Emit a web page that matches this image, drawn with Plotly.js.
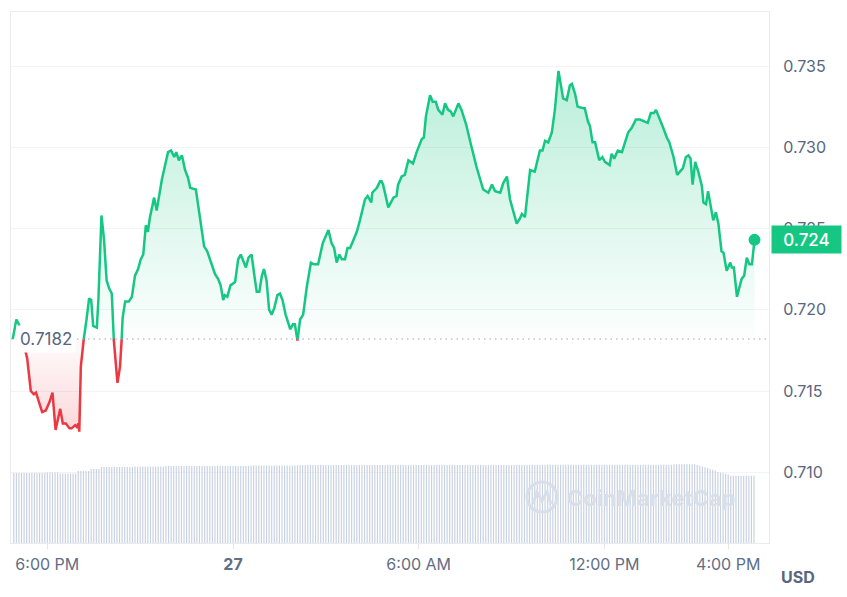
<!DOCTYPE html>
<html><head><meta charset="utf-8">
<script src="https://cdn.plot.ly/plotly-3.0.1.min.js"></script>
<style>html,body{margin:0;padding:0;background:#fff;}#chart{width:847px;height:597px;}</style>
</head><body><div id="chart"></div>
<script>
const times = [
'2025-01-26 16:53','2025-01-26 17:00','2025-01-26 17:05','2025-01-26 17:21','2025-01-26 17:28','2025-01-26 17:34','2025-01-26 17:38','2025-01-26 17:44','2025-01-26 17:50','2025-01-26 17:57',
'2025-01-26 18:04','2025-01-26 18:10','2025-01-26 18:16','2025-01-26 18:25','2025-01-26 18:30','2025-01-26 18:36','2025-01-26 18:43','2025-01-26 18:47','2025-01-26 18:54','2025-01-26 18:57',
'2025-01-26 19:00','2025-01-26 19:02','2025-01-26 19:05','2025-01-26 19:11','2025-01-26 19:16','2025-01-26 19:21','2025-01-26 19:25','2025-01-26 19:29','2025-01-26 19:36','2025-01-26 19:39',
'2025-01-26 19:45','2025-01-26 19:50','2025-01-26 19:55','2025-01-26 20:00','2025-01-26 20:05','2025-01-26 20:09','2025-01-26 20:16','2025-01-26 20:21','2025-01-26 20:24','2025-01-26 20:26',
'2025-01-26 20:31','2025-01-26 20:38','2025-01-26 20:44','2025-01-26 20:50','2025-01-26 20:56','2025-01-26 21:01','2025-01-26 21:06','2025-01-26 21:11','2025-01-26 21:15','2025-01-26 21:19',
'2025-01-26 21:27','2025-01-26 21:32','2025-01-26 21:42','2025-01-26 21:48','2025-01-26 21:54','2025-01-26 22:00','2025-01-26 22:06','2025-01-26 22:10','2025-01-26 22:15','2025-01-26 22:21',
'2025-01-26 22:27','2025-01-26 22:33','2025-01-26 22:37','2025-01-26 22:48','2025-01-26 22:53','2025-01-26 22:59','2025-01-26 23:04','2025-01-26 23:10','2025-01-26 23:17','2025-01-26 23:25',
'2025-01-26 23:31','2025-01-26 23:36','2025-01-26 23:41','2025-01-26 23:44','2025-01-26 23:49','2025-01-26 23:55','2025-01-27 00:04','2025-01-27 00:10','2025-01-27 00:15','2025-01-27 00:20',
'2025-01-27 00:25','2025-01-27 00:30','2025-01-27 00:36','2025-01-27 00:41','2025-01-27 00:46','2025-01-27 00:51','2025-01-27 00:56','2025-01-27 01:00','2025-01-27 01:05','2025-01-27 01:10',
'2025-01-27 01:15','2025-01-27 01:20','2025-01-27 01:26','2025-01-27 01:31','2025-01-27 01:36','2025-01-27 01:42','2025-01-27 01:51','2025-01-27 01:56','2025-01-27 02:00','2025-01-27 02:05',
'2025-01-27 02:10','2025-01-27 02:16','2025-01-27 02:23','2025-01-27 02:31','2025-01-27 02:37','2025-01-27 02:45','2025-01-27 02:54','2025-01-27 03:05','2025-01-27 03:11','2025-01-27 03:16',
'2025-01-27 03:21','2025-01-27 03:26','2025-01-27 03:31','2025-01-27 03:37','2025-01-27 03:42','2025-01-27 03:47','2025-01-27 03:53','2025-01-27 04:00','2025-01-27 04:06','2025-01-27 04:16',
'2025-01-27 04:21','2025-01-27 04:28','2025-01-27 04:30','2025-01-27 04:39','2025-01-27 04:45','2025-01-27 04:48','2025-01-27 04:51','2025-01-27 05:01','2025-01-27 05:11','2025-01-27 05:17',
'2025-01-27 05:20','2025-01-27 05:27','2025-01-27 05:33','2025-01-27 05:40','2025-01-27 05:49','2025-01-27 05:56','2025-01-27 06:06','2025-01-27 06:10','2025-01-27 06:14','2025-01-27 06:22',
'2025-01-27 06:27','2025-01-27 06:33','2025-01-27 06:38','2025-01-27 06:46','2025-01-27 06:51','2025-01-27 06:57','2025-01-27 07:02','2025-01-27 07:07','2025-01-27 07:12','2025-01-27 07:17',
'2025-01-27 07:23','2025-01-27 07:32','2025-01-27 07:41','2025-01-27 07:52','2025-01-27 08:05','2025-01-27 08:15','2025-01-27 08:22','2025-01-27 08:28','2025-01-27 08:38','2025-01-27 08:44',
'2025-01-27 08:51','2025-01-27 08:57','2025-01-27 09:03','2025-01-27 09:10','2025-01-27 09:16','2025-01-27 09:20','2025-01-27 09:26','2025-01-27 09:36','2025-01-27 09:45','2025-01-27 09:55',
'2025-01-27 10:00','2025-01-27 10:05','2025-01-27 10:11','2025-01-27 10:18','2025-01-27 10:24','2025-01-27 10:31','2025-01-27 10:40','2025-01-27 10:47','2025-01-27 10:53','2025-01-27 10:57',
'2025-01-27 11:03','2025-01-27 11:08','2025-01-27 11:19','2025-01-27 11:22','2025-01-27 11:28','2025-01-27 11:32','2025-01-27 11:37','2025-01-27 11:42','2025-01-27 11:50','2025-01-27 11:56',
'2025-01-27 12:01','2025-01-27 12:10','2025-01-27 12:14','2025-01-27 12:19','2025-01-27 12:26','2025-01-27 12:34','2025-01-27 12:40','2025-01-27 12:46','2025-01-27 12:53','2025-01-27 13:01',
'2025-01-27 13:09','2025-01-27 13:17','2025-01-27 13:24','2025-01-27 13:30','2025-01-27 13:36','2025-01-27 13:40','2025-01-27 13:48','2025-01-27 13:54','2025-01-27 14:01','2025-01-27 14:06',
'2025-01-27 14:14','2025-01-27 14:21','2025-01-27 14:32','2025-01-27 14:38','2025-01-27 14:43','2025-01-27 14:47','2025-01-27 14:51','2025-01-27 14:56','2025-01-27 15:02','2025-01-27 15:09',
'2025-01-27 15:12','2025-01-27 15:17','2025-01-27 15:21','2025-01-27 15:26','2025-01-27 15:31','2025-01-27 15:36','2025-01-27 15:41','2025-01-27 15:47','2025-01-27 15:51','2025-01-27 15:57',
'2025-01-27 16:04','2025-01-27 16:07','2025-01-27 16:11','2025-01-27 16:17','2025-01-27 16:22','2025-01-27 16:26','2025-01-27 16:31','2025-01-27 16:36','2025-01-27 16:41','2025-01-27 16:46',
'2025-01-27 16:51'];

const prices = [
0.7182,0.7194,0.7191,0.7170,0.7150,0.7148,0.7149,0.7143,0.7137,0.7138,
0.7143,0.7149,0.7126,0.7139,0.7130,0.7130,0.7127,0.7127,0.7129,0.7128,
0.7130,0.7125,0.7165,0.7183,0.7194,0.7207,0.7206,0.7190,0.7189,0.7206,
0.7258,0.7243,0.7218,0.7213,0.7210,0.7181,0.7155,0.7165,0.7181,0.7195,
0.7205,0.7205,0.7208,0.7221,0.7225,0.7231,0.7234,0.7252,0.7248,0.7257,
0.7269,0.7261,0.7280,0.7289,0.7297,0.7298,0.7294,0.7297,0.7292,0.7295,
0.7286,0.7281,0.7275,0.7274,0.7263,0.7249,0.7239,0.7236,0.7229,0.7222,
0.7219,0.7215,0.7206,0.7209,0.7208,0.7215,0.7217,0.7231,0.7234,0.7230,
0.7226,0.7232,0.7234,0.7222,0.7211,0.7211,0.7221,0.7225,0.7218,0.7200,
0.7197,0.7201,0.7209,0.7210,0.7206,0.7197,0.7188,0.7191,0.7191,0.7181,
0.7194,0.7197,0.7214,0.7229,0.7228,0.7228,0.7241,0.7249,0.7241,0.7238,
0.7229,0.7234,0.7231,0.7231,0.7238,0.7238,0.7243,0.7248,0.7255,0.7268,
0.7270,0.7266,0.7272,0.7275,0.7279,0.7279,0.7277,0.7263,0.7269,0.7270,
0.7277,0.7282,0.7283,0.7292,0.7290,0.7297,0.7305,0.7306,0.7319,0.7332,
0.7328,0.7328,0.7323,0.7320,0.7327,0.7323,0.7322,0.7319,0.7323,0.7327,
0.7323,0.7314,0.7302,0.7288,0.7274,0.7272,0.7277,0.7273,0.7272,0.7278,
0.7282,0.7268,0.7261,0.7253,0.7256,0.7259,0.7257,0.7286,0.7285,0.7298,
0.7298,0.7304,0.7303,0.7309,0.7323,0.7347,0.7330,0.7329,0.7338,0.7339,
0.7333,0.7325,0.7324,0.7324,0.7316,0.7313,0.7303,0.7303,0.7292,0.7294,
0.7291,0.7289,0.7296,0.7293,0.7298,0.7297,0.7303,0.7309,0.7312,0.7317,
0.7317,0.7316,0.7315,0.7321,0.7321,0.7323,0.7316,0.7312,0.7306,0.7303,
0.7294,0.7283,0.7287,0.7294,0.7295,0.7293,0.7277,0.7291,0.7285,0.7276,
0.7266,0.7265,0.7273,0.7263,0.7255,0.7260,0.7253,0.7236,0.7235,0.7224,
0.7229,0.7226,0.7226,0.7208,0.7214,0.7219,0.7221,0.7232,0.7228,0.7228,
0.7243];

const openPrice = 0.7182;

const volumeStart = '2025-01-26 16:55';
const volumeStepMinutes = 5;
const volumes = [
350,350,350,350,350,350,350,350,350,350,
350,350,350,352,352,352,352,352,347,347,
347,347,347,347,347,360,360,360,360,360,
370,370,370,370,380,380,380,380,380,380,
380,380,380,380,380,380,380,383,383,383,
383,383,383,383,383,383,383,383,383,385,
385,385,385,385,385,385,385,385,385,385,
385,385,385,385,385,385,385,385,385,385,
385,385,385,385,385,385,385,385,385,385,
385,385,388,388,388,388,388,388,388,388,
388,388,388,388,388,388,388,388,388,388,
388,390,390,390,390,390,390,390,390,390,
390,390,390,390,390,390,390,390,390,390,
390,390,390,390,390,390,390,390,390,390,
390,390,390,390,390,390,390,390,390,390,
390,390,390,390,390,390,390,390,390,390,
390,390,390,390,390,390,390,390,390,390,
390,390,390,390,390,390,390,390,390,390,
390,390,390,390,390,390,390,390,390,390,
390,390,390,390,390,390,390,390,390,390,
390,391,391,391,391,391,391,391,391,391,
391,391,391,391,391,391,391,391,391,391,
391,391,391,391,391,391,391,391,391,391,
391,391,391,391,391,391,391,391,391,391,
391,391,391,391,391,391,391,391,391,391,
391,391,391,391,391,391,394,394,394,394,
394,394,394,394,394,390,386,382,378,374,
370,366,362,355,352,350,346,342,336,336,
336,336,336,336,336,336,336,336];

const xTickVals = ['2025-01-26 18:00','2025-01-27 00:00','2025-01-27 06:00','2025-01-27 12:00','2025-01-27 16:00'];
const xTickText = ['6:00 PM','<b>27</b>','6:00 AM','12:00 PM','4:00 PM'];
const yTickVals = [0.710,0.715,0.720,0.725,0.730,0.735];
const yTickText = ['0.710','0.715','0.720','0.725','0.730','0.735'];
const currencyLabel = 'USD';
const watermarkText = 'CoinMarketCap';

const GREEN = '#16c784', RED = '#ea3943';

function toMs(s){
  const [d,t] = s.split(' ');
  const [Y,M,D] = d.split('-').map(Number);
  const [h,m] = t.split(':').map(Number);
  return Date.UTC(Y,M-1,D,h,m);
}

const tx = times.map(toMs);
const X = [], Y = [];
for (let i = 0; i < tx.length; i++) {
  X.push(tx[i]); Y.push(prices[i]);
  if (i < tx.length - 1) {
    const a = prices[i] - openPrice, b = prices[i+1] - openPrice;
    if (a * b < 0) {
      const f = a / (a - b);
      X.push(tx[i] + f * (tx[i+1] - tx[i]));
      Y.push(openPrice);
    }
  }
}
const up = Y.map(v => v >= openPrice ? v : null);
const dn = Y.map(v => v <= openPrice ? v : null);
const upFill = Y.map(v => Math.max(v, openPrice));
const dnFill = Y.map(v => Math.min(v, openPrice));
const baseArr = Y.map(() => openPrice);
const pMax = Math.max(...prices), pMin = Math.min(...prices);

const v0 = toMs(volumeStart);
const volX = volumes.map((_, i) => v0 + i * volumeStepMinutes * 60000);

const last = prices.length - 1;
const lastLabel = prices[last].toFixed(3);

const traces = [
  {x: volX, y: volumes, type: 'bar', yaxis: 'y2', marker: {color: '#c8d1e1', line: {width: 0}}, hoverinfo: 'skip', showlegend: false},
  {x: X, y: baseArr, mode: 'lines', line: {width: 0, color: 'rgba(0,0,0,0)'}, hoverinfo: 'skip', showlegend: false},
  {x: X, y: upFill, mode: 'lines', line: {width: 0, color: 'rgba(0,0,0,0)'}, fill: 'tonexty',
   fillgradient: {type: 'vertical', colorscale: [[0, 'rgba(22,199,132,0.01)'], [1, 'rgba(22,199,132,0.3)']], start: openPrice, stop: pMax},
   hoverinfo: 'skip', showlegend: false},
  {x: X, y: baseArr, mode: 'lines', line: {width: 0, color: 'rgba(0,0,0,0)'}, hoverinfo: 'skip', showlegend: false},
  {x: X, y: dnFill, mode: 'lines', line: {width: 0, color: 'rgba(0,0,0,0)'}, fill: 'tonexty',
   fillgradient: {type: 'vertical', colorscale: [[0, 'rgba(234,57,67,0.2)'], [1, 'rgba(234,57,67,0.02)']], start: pMin, stop: openPrice},
   hoverinfo: 'skip', showlegend: false},
  {x: X, y: up, mode: 'lines', line: {color: GREEN, width: 2.5}, connectgaps: false, showlegend: false},
  {x: X, y: dn, mode: 'lines', line: {color: RED, width: 2.5}, connectgaps: false, showlegend: false},
  {x: [tx[last]], y: [prices[last]], mode: 'markers', marker: {color: GREEN, size: 12}, showlegend: false}
];

const L = 11, R = 769, T = 12, B = 543;
const px = v => (v - L) / (R - L);
const py = v => (B - v) / (B - T);

const layout = {
  width: 847, height: 597,
  margin: {l: 11, r: 78, t: 12, b: 54},
  paper_bgcolor: '#ffffff', plot_bgcolor: '#ffffff',
  font: {family: 'Inter, "Noto Sans", sans-serif', color: '#58667e', size: 16},
  showlegend: false,
  bargap: 0.55,
  xaxis: {
    type: 'date', range: ['2025-01-26 16:49:36', '2025-01-27 17:19:06'],
    tickmode: 'array', tickvals: xTickVals, ticktext: xTickText,
    showgrid: false, zeroline: false, showline: true, mirror: true,
    linecolor: '#e8ebef', linewidth: 1,
    ticks: 'outside', ticklen: 5, tickcolor: '#e3e7ec', ticklabelstandoff: 2,
    tickfont: {size: 16, color: '#616e85'}, fixedrange: true
  },
  yaxis: {
    side: 'right', range: [0.705646, 0.738323],
    tickmode: 'array', tickvals: yTickVals, ticktext: yTickText,
    showgrid: true, gridcolor: '#f1f3f6', gridwidth: 1,
    zeroline: false, showline: true, mirror: true, linecolor: '#e8ebef',
    ticks: '', ticklabelstandoff: 10,
    tickfont: {size: 16, color: '#58667e'}, fixedrange: true
  },
  yaxis2: {overlaying: 'y', range: [0, 2655], visible: false, fixedrange: true},
  shapes: [
    {type: 'line', xref: 'paper', x0: 0, x1: 1, yref: 'y', y0: openPrice, y1: openPrice,
     line: {color: '#9da6b5', width: 1, dash: '1.5px,4px'}},
    {type: 'circle', xref: 'paper', yref: 'paper', x0: px(527), x1: px(557), y0: py(512), y1: py(482),
     line: {color: '#d9dfe9', width: 3}},
    {type: 'path', xref: 'paper', yref: 'paper',
     path: `M ${px(533)},${py(504)} L ${px(537)},${py(492)} L ${px(542)},${py(501)} L ${px(547)},${py(492)} L ${px(551)},${py(504)}`,
     line: {color: '#d9dfe9', width: 3}}
  ],
  annotations: [
    {xref: 'paper', x: px(16), xanchor: 'left', yref: 'y', y: openPrice, yanchor: 'middle',
     text: openPrice.toFixed(4), showarrow: false, bgcolor: '#ffffff', borderpad: 3,
     font: {size: 17, color: '#58667e'}},
    {xref: 'paper', x: px(771), xanchor: 'left', yref: 'y', y: prices[last], yanchor: 'middle',
     text: lastLabel, showarrow: false, bgcolor: GREEN, borderpad: 0, width: 69, height: 27,
     align: 'center', valign: 'middle', font: {size: 17, color: '#ffffff', weight: 500}},
    {xref: 'paper', x: px(798), xanchor: 'center', yref: 'paper', y: py(577), yanchor: 'middle',
     text: '<b>' + currencyLabel + '</b>', showarrow: false, font: {size: 16, color: '#58667e'}},
    {xref: 'paper', x: px(651), xanchor: 'center', yref: 'paper', y: py(498), yanchor: 'middle',
     text: '<b>' + watermarkText + '</b>', showarrow: false, font: {size: 22, color: '#d9dfe9'}}
  ]
};

Plotly.newPlot('chart', traces, layout, {displayModeBar: false, staticPlot: true});
</script>
</body></html>
